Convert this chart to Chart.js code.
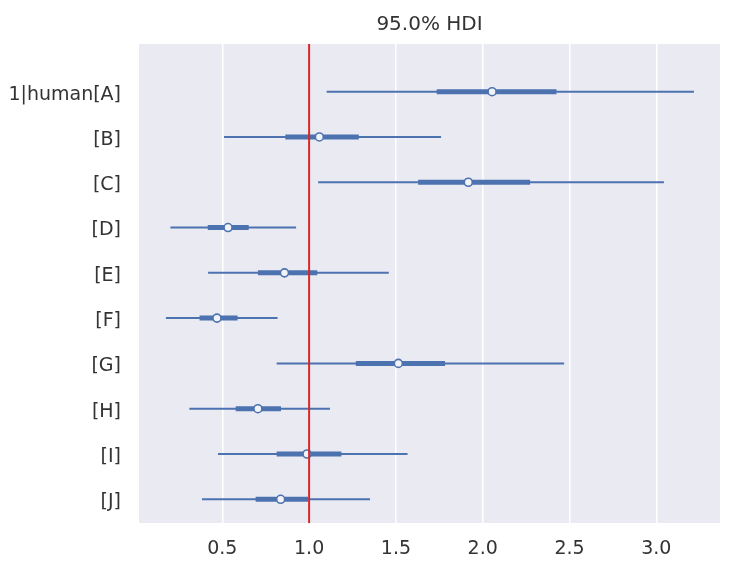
<!DOCTYPE html>
<html>
<head>
<meta charset="utf-8">
<script src="https://cdn.jsdelivr.net/npm/chart.js@4"></script>
<style>
  html, body { margin: 0; padding: 0; background: #ffffff; }
  #wrap { width: 742px; height: 575px; }
</style>
</head>
<body>
<div id="wrap"><canvas id="c"></canvas></div>
<script>
// Row labels (top to bottom)
const labels = ["1|human[A]", "[B]", "[C]", "[D]", "[E]", "[F]", "[G]", "[H]", "[I]", "[J]"];
// 95% HDI bounds
const hdi95Low  = [1.101, 0.510, 1.052, 0.201, 0.418, 0.175, 0.813, 0.310, 0.475, 0.383];
const hdi95High = [3.217, 1.760, 3.044, 0.925, 1.459, 0.818, 2.469, 1.120, 1.567, 1.351];
// 50% interval bounds (thick segment)
const iqrLow    = [1.735, 0.863, 1.628, 0.416, 0.705, 0.369, 1.269, 0.577, 0.813, 0.692];
const iqrHigh   = [2.425, 1.286, 2.273, 0.652, 1.047, 0.588, 1.783, 0.838, 1.186, 0.994];
// Point estimates (medians)
const medians   = [2.054, 1.059, 1.917, 0.533, 0.858, 0.469, 1.514, 0.705, 0.988, 0.836];
// X tick values
const xTicks = [0.5, 1.0, 1.5, 2.0, 2.5, 3.0];
const refValue = 1.0;
const titleText = "95.0% HDI";

const BLUE = "#4c72b0";
const FONT = "'DejaVu Sans', Verdana, sans-serif";
const yMin = -1.053, yMax = 9.524;

const datasets = [];
// reference line (on top)
datasets.push({
  type: 'line',
  data: [{x: refValue, y: yMin}, {x: refValue, y: yMax}],
  borderColor: '#d92626', borderWidth: 2, pointRadius: 0, order: 0, clip: false
});
// medians
datasets.push({
  type: 'scatter',
  data: medians.map((m, i) => ({x: m, y: i})),
  pointRadius: 4, pointHoverRadius: 4,
  pointBackgroundColor: '#f2f3f8', pointBorderColor: BLUE, pointBorderWidth: 1.6,
  order: 1
});
labels.forEach((lab, i) => {
  datasets.push({
    type: 'line',
    data: [{x: iqrLow[i], y: i}, {x: iqrHigh[i], y: i}],
    borderColor: BLUE, borderWidth: 5, pointRadius: 0, borderCapStyle: 'butt', order: 2
  });
  datasets.push({
    type: 'line',
    data: [{x: hdi95Low[i], y: i}, {x: hdi95High[i], y: i}],
    borderColor: BLUE, borderWidth: 2, pointRadius: 0, borderCapStyle: 'butt', order: 3
  });
});

const bgPlugin = {
  id: 'bg',
  beforeDraw(chart) {
    const {ctx, chartArea: a} = chart;
    ctx.save();
    ctx.fillStyle = '#eaeaf2';
    ctx.fillRect(a.left, a.top, a.right - a.left, a.bottom - a.top);
    ctx.restore();
  },
  afterDraw(chart) {
    const {ctx, chartArea: a} = chart;
    ctx.save();
    ctx.fillStyle = '#333333';
    ctx.font = "20px " + FONT;
    ctx.textAlign = 'center';
    ctx.textBaseline = 'middle';
    ctx.fillText(titleText, (a.left + a.right) / 2, 25);
    ctx.restore();
  }
};

new Chart(document.getElementById('c'), {
  type: 'line',
  data: { datasets },
  plugins: [bgPlugin],
  options: {
    responsive: true,
    maintainAspectRatio: false,
    animation: false,
    layout: { padding: { top: 44, right: 22, left: 0, bottom: 0 } },
    plugins: { legend: { display: false }, tooltip: { enabled: false }, title: { display: false } },
    scales: {
      x: {
        type: 'linear',
        min: 0.02, max: 3.367,
        afterBuildTicks(s) { s.ticks = xTicks.map(v => ({value: v})); },
        afterFit(s) { s.height = 52; },
        grid: { color: '#ffffff', lineWidth: 1.5, drawTicks: false },
        border: { display: false },
        ticks: {
          padding: 15, color: '#333333', font: { family: FONT, size: 19 },
          callback: v => Number(v).toFixed(1)
        }
      },
      y: {
        type: 'linear',
        reverse: true,
        min: yMin, max: yMax,
        afterBuildTicks(s) { s.ticks = labels.map((l, i) => ({value: i})); },
        afterFit(s) { s.width = 139; },
        grid: { display: false, drawTicks: false },
        border: { display: false },
        ticks: {
          padding: 18, labelOffset: 3, color: '#333333', font: { family: FONT, size: 19 },
          callback: v => labels[Math.round(v)]
        }
      }
    }
  }
});
</script>
</body>
</html>
